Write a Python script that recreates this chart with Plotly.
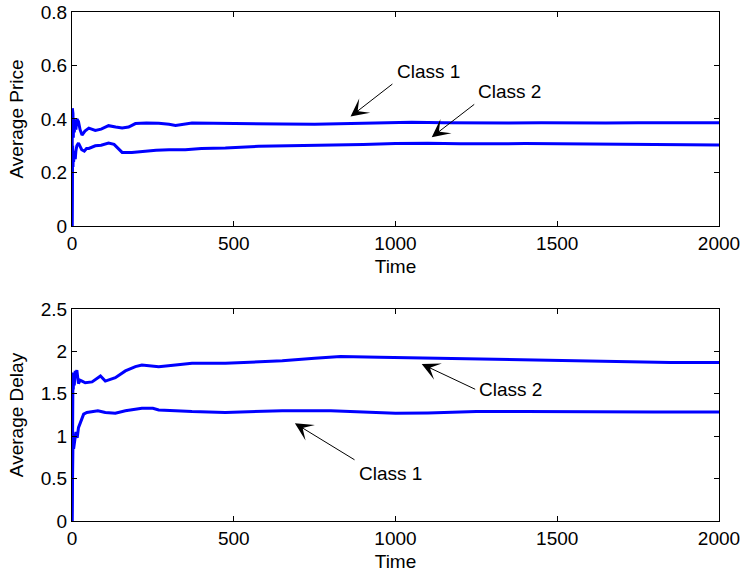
import plotly.graph_objects as go
from plotly.subplots import make_subplots

# ---- data ----
price_c1_t = [0, 1, 2, 3, 4, 5, 7, 9, 12, 15, 20, 25, 31, 40, 52, 62, 72, 90, 113, 135, 155, 175, 196,
              230, 268, 300, 320, 371, 420, 474, 577, 650, 750, 850, 950, 1050, 1150, 1250, 1350,
              1450, 1550, 1650, 1750, 1850, 2000]
price_c1_v = [0.0, 0.44, 0.30, 0.42, 0.33, 0.40, 0.35, 0.38, 0.36, 0.40, 0.39, 0.36, 0.34, 0.355, 0.366,
              0.36, 0.357, 0.362, 0.375, 0.37, 0.366, 0.37, 0.383, 0.385, 0.384, 0.38, 0.376, 0.385,
              0.384, 0.383, 0.38, 0.381, 0.38, 0.383, 0.386, 0.388, 0.386, 0.385, 0.385, 0.386,
              0.385, 0.385, 0.386, 0.386, 0.386]

price_c2_t = [0, 1, 2, 3, 4, 5, 7, 10, 12, 15, 20, 25, 30, 38, 45, 52, 65, 72, 90, 113, 130, 145, 155,
              185, 220, 260, 300, 350, 400, 474, 577, 700, 800, 900, 1000, 1100, 1200, 1300, 1400,
              1500, 1600, 1700, 1800, 1900, 2000]
price_c2_v = [0.0, 0.17, 0.30, 0.22, 0.28, 0.24, 0.27, 0.25, 0.28, 0.30, 0.31, 0.30, 0.285, 0.28, 0.29,
              0.29, 0.295, 0.30, 0.302, 0.31, 0.305, 0.285, 0.275, 0.275, 0.28, 0.283, 0.285, 0.285,
              0.29, 0.292, 0.298, 0.30, 0.302, 0.305, 0.308, 0.309, 0.307, 0.308, 0.308, 0.307,
              0.306, 0.305, 0.304, 0.303, 0.303]

delay_c1_t = [0, 1, 2, 3, 5, 8, 12, 16, 20, 26, 31, 36, 46, 62, 80, 103, 134, 165, 196, 216, 250, 268,
              320, 371, 474, 577, 650, 800, 900, 1000, 1100, 1250, 1400, 1600, 1800, 2000]
delay_c1_v = [0.0, 0.65, 0.70, 0.92, 0.85, 0.96, 1.05, 0.98, 1.10, 1.16, 1.22, 1.26, 1.28, 1.29, 1.30,
              1.28, 1.27, 1.30, 1.32, 1.33, 1.33, 1.31, 1.30, 1.29, 1.28, 1.29, 1.30, 1.30, 1.285,
              1.27, 1.275, 1.29, 1.29, 1.285, 1.285, 1.285]

delay_c2_t = [0, 1, 2, 3, 4, 5, 7, 10, 12, 15, 20, 25, 31, 41, 62, 88, 103, 134, 165, 196, 216, 240,
              268, 320, 371, 474, 577, 650, 750, 830, 950, 1100, 1300, 1500, 1700, 1850, 2000]
delay_c2_v = [0.0, 1.71, 1.45, 1.75, 1.55, 1.73, 1.60, 1.77, 1.70, 1.78, 1.62, 1.66, 1.65, 1.63, 1.64,
              1.71, 1.65, 1.69, 1.77, 1.82, 1.84, 1.83, 1.82, 1.84, 1.86, 1.86, 1.88, 1.89, 1.92,
              1.94, 1.93, 1.92, 1.91, 1.89, 1.88, 1.87, 1.87]

x_ticks = [0, 500, 1000, 1500, 2000]
price_ticks = [0, 0.2, 0.4, 0.6, 0.8]
delay_ticks = [0, 0.5, 1, 1.5, 2, 2.5]

# annotations: (label, head_x, head_y, tail_x, tail_y, text_x, text_y)
price_notes = [("Class 1", 861, 0.409, 995, 0.535, 998, 0.576),
               ("Class 2", 1112, 0.332, 1248, 0.459, 1249, 0.501)]
delay_notes = [("Class 2", 1081, 1.851, 1251, 1.545, 1252, 1.545),
               ("Class 1", 689, 1.152, 878, 0.711, 881, 0.566)]

FONT = "Liberation Sans, Arial, sans-serif"
BLUE = "#0000ff"

fig = make_subplots(rows=2, cols=1, vertical_spacing=0.0)

for t, v in [(price_c1_t, price_c1_v), (price_c2_t, price_c2_v)]:
    fig.add_trace(go.Scatter(x=t, y=v, mode="lines", line=dict(color=BLUE, width=3),
                             showlegend=False), row=1, col=1)
for t, v in [(delay_c1_t, delay_c1_v), (delay_c2_t, delay_c2_v)]:
    fig.add_trace(go.Scatter(x=t, y=v, mode="lines", line=dict(color=BLUE, width=3),
                             showlegend=False), row=2, col=1)

axis_style = dict(showline=True, linecolor="#000000", linewidth=1, mirror="ticks",
                  ticks="inside", ticklen=5, tickcolor="#000000", showgrid=False,
                  zeroline=False, automargin=False,
                  tickfont=dict(family=FONT, size=19, color="#000000"))

fig.update_xaxes(range=[0, 2000], tickvals=x_ticks, ticktext=[str(v) for v in x_ticks],
                 title=dict(text="Time", font=dict(family=FONT, size=19, color="#000000"), standoff=6),
                 **axis_style)
fig.update_yaxes(range=[0, 0.8], tickvals=price_ticks, ticktext=[f"{v:g}" for v in price_ticks],
                 title=dict(text="Average Price", font=dict(family=FONT, size=19, color="#000000"),
                            standoff=12),
                 row=1, col=1, **axis_style)
fig.update_yaxes(range=[0, 2.5], tickvals=delay_ticks, ticktext=[f"{v:g}" for v in delay_ticks],
                 title=dict(text="Average Delay", font=dict(family=FONT, size=19, color="#000000"),
                            standoff=12),
                 row=2, col=1, **axis_style)

fig.update_layout(
    xaxis=dict(domain=[0, 1]), yaxis=dict(domain=[0.5796, 1.0]),
    xaxis2=dict(domain=[0, 1]), yaxis2=dict(domain=[0.0, 0.4165]),
)

for row, notes in [(1, price_notes), (2, delay_notes)]:
    xr = "x" if row == 1 else "x2"
    yr = "y" if row == 1 else "y2"
    for label, hx, hy, tx, ty, lx, ly in notes:
        fig.add_annotation(x=hx, y=hy, ax=tx, ay=ty, xref=xr, yref=yr, axref=xr, ayref=yr,
                           text="", showarrow=True, arrowhead=3, arrowsize=3, arrowwidth=1,
                           arrowcolor="#000000")
        fig.add_annotation(x=lx, y=ly, xref=xr, yref=yr, text=label, showarrow=False,
                           xanchor="left", yanchor="middle",
                           font=dict(family=FONT, size=19, color="#000000"))

fig.update_layout(width=742, height=578, margin=dict(l=72, r=23, t=12, b=57),
                  paper_bgcolor="white", plot_bgcolor="white")

fig.write_html("out.html")
